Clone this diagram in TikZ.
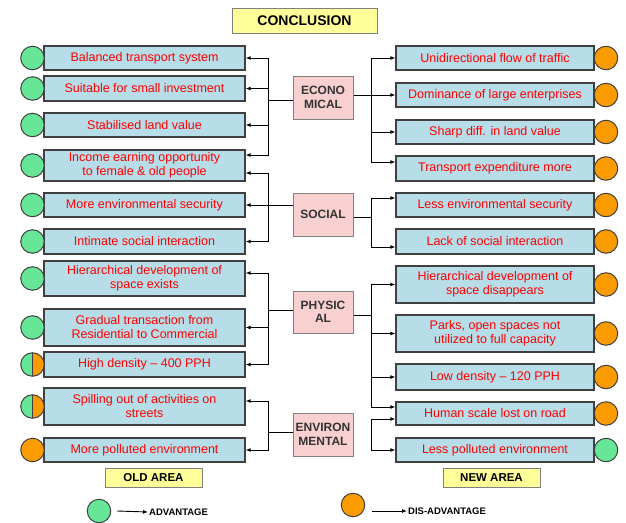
\documentclass[tikz,border=0pt]{standalone}
\usepackage{fontspec}
\setmainfont{Liberation Sans}
\usetikzlibrary{arrows.meta}
\definecolor{boxblue}{RGB}{183,221,232}
\definecolor{catpink}{RGB}{248,208,208}
\definecolor{tagyellow}{RGB}{255,255,153}
\definecolor{advgreen}{RGB}{102,230,150}
\definecolor{disorange}{RGB}{250,155,0}
\definecolor{edgegray}{RGB}{64,64,64}

\begin{document}
\begin{tikzpicture}[x=1pt, y=-1pt, >={Latex[length=5pt,width=4pt]},
    item/.style={rectangle, draw=edgegray, line width=1.3pt, fill=boxblue, text=red, align=center, inner sep=0pt, font=\fontsize{12.5}{14}\selectfont},
    old/.style={item, minimum width=201pt},
    new/.style={item, minimum width=198pt},
    cat/.style={rectangle, draw=gray, line width=1pt, fill=catpink, text=black!80, align=center, inner sep=0pt, minimum width=60pt, font=\fontsize{12}{13.5}\selectfont\bfseries},
    tag/.style={rectangle, draw=gray, line width=1pt, fill=tagyellow, inner sep=0pt},
    adv/.style={circle, draw=edgegray, line width=1pt, fill=advgreen, minimum size=23.5pt, inner sep=0pt},
    dis/.style={adv, fill=disorange},
    mixed/.style={adv, path picture={
        \fill[disorange] (path picture bounding box.north) rectangle (path picture bounding box.south east);
        \draw[line width=1pt] (path picture bounding box.north) -- (path picture bounding box.south);}},
    wire/.style={line width=0.9pt}]
    \useasboundingbox (0,0) rectangle (626,522);

    \node [tag, minimum width=145pt, minimum height=25pt, font=\fontsize{14}{16}\selectfont\bfseries] (conclusion) at (304.5,20.5) {CONCLUSION};

    % old area
    \node [old, minimum height=24pt] (balanced) at (144.5,58) {Balanced transport system};
    \node [old, minimum height=25pt] (suitable) at (144.5,88.5) {Suitable for small investment};
    \node [old, minimum height=24pt] (stabilised) at (144.5,125) {Stabilised land value};
    \node [old, minimum height=31pt] (income) at (144.5,165.5) {Income earning opportunity\\to female \& old people};
    \node [old, minimum height=24pt] (moresecurity) at (144.5,205) {More environmental security};
    \node [old, minimum height=25pt] (intimate) at (144.5,241.5) {Intimate social interaction};
    \node [old, minimum height=35pt] (hierexists) at (144.5,278.5) {Hierarchical development of\\space exists};
    \node [old, minimum height=37pt] (gradual) at (144.5,327.5) {Gradual transaction from\\Residential to Commercial};
    \node [old, minimum height=25pt] (highdensity) at (144.5,364.5) {High density -- 400 PPH};
    \node [old, minimum height=37pt] (spilling) at (144.5,406.5) {Spilling out of activities on\\streets};
    \node [old, minimum height=24pt] (morepolluted) at (144.5,450) {More polluted environment};

    % new area
    \node [new, minimum height=24pt] (unidirectional) at (495,58) {Unidirectional flow of traffic};
    \node [new, minimum height=24pt] (dominance) at (495,95) {Dominance of large enterprises};
    \node [new, minimum height=24pt] (sharpdiff) at (495,132) {Sharp diff. in land value};
    \node [new, minimum height=25pt] (expenditure) at (495,168.5) {Transport expenditure more};
    \node [new, minimum height=24pt] (lesssecurity) at (495,205) {Less environmental security};
    \node [new, minimum height=25pt] (lackinteraction) at (495,241.5) {Lack of social interaction};
    \node [new, minimum height=37pt] (hierdisappears) at (495,284.5) {Hierarchical development of\\space disappears};
    \node [new, minimum height=37pt] (parks) at (495,333.5) {Parks, open spaces not\\utilized to full capacity};
    \node [new, minimum height=26pt] (lowdensity) at (495,377) {Low density -- 120 PPH};
    \node [new, minimum height=23pt] (humanscale) at (495,413.5) {Human scale lost on road};
    \node [new, minimum height=24pt] (lesspolluted) at (495,450) {Less polluted environment};

    % categories
    \node [cat, minimum height=43pt] (economical) at (323,97.5) {ECONO\\MICAL};
    \node [cat, minimum height=43pt] (social) at (323,214.5) {SOCIAL};
    \node [cat, minimum height=42pt] (physical) at (323,312) {PHYSIC\\AL};
    \node [cat, minimum height=43pt] (environmental) at (323,434.5) {ENVIRON\\MENTAL};

    % circles
    \node [adv] (c1) at (32.5,58) {};
    \node [adv] (c2) at (32.5,88.5) {};
    \node [adv] (c3) at (32.5,125) {};
    \node [adv] (c4) at (32.5,165.5) {};
    \node [adv] (c5) at (32.5,205) {};
    \node [adv] (c6) at (32.5,241.5) {};
    \node [adv] (c7) at (32.5,278.5) {};
    \node [adv] (c8) at (32.5,327.5) {};
    \node [mixed] (c9) at (32.5,364.5) {};
    \node [mixed] (c10) at (32.5,406.5) {};
    \node [dis] (c11) at (32.5,450) {};
    \node [dis] (d1) at (606,58) {};
    \node [dis] (d2) at (606,95) {};
    \node [dis] (d3) at (606,132) {};
    \node [dis] (d4) at (606,168.5) {};
    \node [dis] (d5) at (606,205) {};
    \node [dis] (d6) at (606,241.5) {};
    \node [dis] (d7) at (606,284.5) {};
    \node [dis] (d8) at (606,333.5) {};
    \node [dis] (d9) at (606,377) {};
    \node [dis] (d10) at (606,413.5) {};
    \node [adv] (d11) at (606,450) {};

    \node [tag, minimum width=97pt, minimum height=19pt, font=\fontsize{11.5}{13}\selectfont\bfseries] (oldarea) at (153.5,477.5) {OLD AREA};
    \node [tag, minimum width=97pt, minimum height=19pt, font=\fontsize{11.5}{13}\selectfont\bfseries] (newarea) at (491.5,477.5) {NEW AREA};

    % legend
    \node [adv] (legadv) at (99,511) {};
    \node [dis] (legdis) at (353,505) {};
    \node [anchor=west, inner sep=1pt, font=\fontsize{9.5}{11}\selectfont\bfseries] (advtext) at (148,512) {ADVANTAGE};
    \node [anchor=west, inner sep=1pt, font=\fontsize{9.5}{11}\selectfont\bfseries] (distext) at (407,511) {DIS-ADVANTAGE};
    \draw[wire,->] ([xshift=6pt]legadv.east) -- (advtext.west);
    \draw[wire,->] ([xshift=7pt,yshift=-6pt]legdis.east) -- (distext.west);

    % spines
    \coordinate (ecoL) at (268,100.5);
    \coordinate (ecoR) at (371,95);
    \coordinate (socL) at (268,205);
    \coordinate (socR) at (371,217);
    \coordinate (phyL) at (268,310);
    \coordinate (phyR) at (371,315);
    \coordinate (envL) at (268,432);
    \coordinate (envR) at (371,432);

    \draw[wire] (economical.west |- ecoL) -- (ecoL);
    \draw[wire,->] (ecoL) |- (balanced.east);
    \draw[wire,->] (ecoL) |- (suitable.east);
    \draw[wire,->] (ecoL) |- (stabilised.east);
    \draw[wire,->] (ecoL) |- ([yshift=10.5pt]income.east);
    \draw[wire] (economical.east |- ecoR) -- (ecoR);
    \draw[wire,->] (ecoR) |- (unidirectional.west);
    \draw[wire,->] (ecoR) |- (dominance.west);
    \draw[wire,->] (ecoR) |- (sharpdiff.west);
    \draw[wire,->] (ecoR) |- ([yshift=6.5pt]expenditure.west);

    \draw[wire] (social.west |- socL) -- (socL);
    \draw[wire,->] (socL) |- ([yshift=-7.5pt]income.east);
    \draw[wire,->] (socL) |- (moresecurity.east);
    \draw[wire,->] (socL) |- (intimate.east);
    \draw[wire] (social.east |- socR) -- (socR);
    \draw[wire,->] (socR) |- ([yshift=7pt]lesssecurity.west);
    \draw[wire,->] (socR) |- ([yshift=-5.5pt]lackinteraction.west);

    \draw[wire] (physical.west |- phyL) -- (phyL);
    \draw[wire,->] (phyL) |- ([yshift=5.5pt]hierexists.east);
    \draw[wire,->] (phyL) |- (gradual.east);
    \draw[wire,->] (phyL) |- (highdensity.east);
    \draw[wire] (physical.east |- phyR) -- (phyR);
    \draw[wire,->] (phyR) |- (hierdisappears.west);
    \draw[wire,->] (phyR) |- (parks.west);
    \draw[wire,->] (phyR) |- (lowdensity.west);
    \draw[wire,->] (phyR) |- ([yshift=6.5pt]humanscale.west);

    \draw[wire] (environmental.west |- envL) -- (envL);
    \draw[wire,->] (envL) |- ([yshift=5.5pt]spilling.east);
    \draw[wire,->] (envL) |- (morepolluted.east);
    \draw[wire,->] (envR) |- ([yshift=-5.5pt]humanscale.west);
    \draw[wire,->] (envR) |- (lesspolluted.west);
\end{tikzpicture}
\end{document}
